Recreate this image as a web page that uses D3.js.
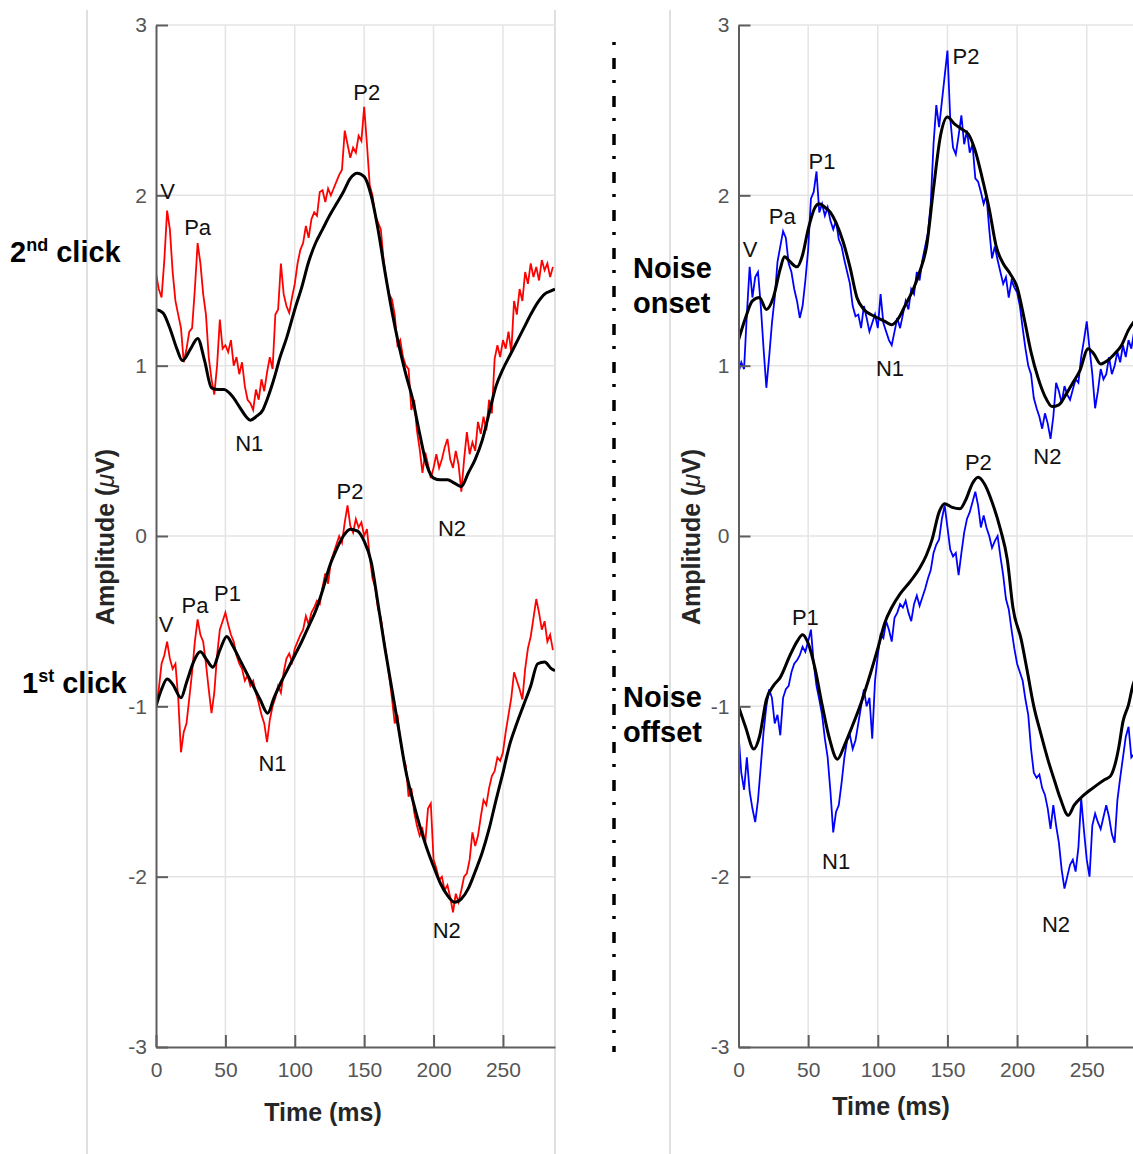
<!DOCTYPE html>
<html><head><meta charset="utf-8">
<script src="https://cdn.jsdelivr.net/npm/d3@7"></script>
<style>
body{margin:0;background:#fff}
svg{display:block}
text{font-family:"Liberation Sans",Arial,sans-serif}
</style>
</head><body>
<svg id="c" width="1133" height="1154"></svg>
<script>
// ---------------- DATA ----------------
const xTicks = [0, 50, 100, 150, 200, 250];
const yTicks = [-3, -2, -1, 0, 1, 2, 3];
const sampleStep = 2; // ms between samples of the noisy traces

// 2nd click (red, upper left)
const redClick2 = [
 1.54,1.45,1.40,1.62,1.91,1.80,1.55,1.38,1.30,1.22,
 1.02,1.10,1.20,1.22,1.45,1.72,1.60,1.42,1.30,1.05,
 0.92,0.83,1.00,1.27,1.10,1.12,1.08,1.15,1.00,1.05,
 0.95,1.02,0.88,0.80,0.78,0.74,0.86,0.80,0.92,0.85,
 0.96,1.05,0.98,1.30,1.33,1.60,1.42,1.35,1.31,1.40,
 1.48,1.60,1.68,1.72,1.82,1.75,1.86,1.90,1.88,2.02,
 2.03,1.96,2.04,2.00,2.04,2.08,2.12,2.15,2.38,2.30,
 2.22,2.28,2.25,2.35,2.32,2.52,2.30,2.06,2.00,1.88,
 1.84,1.80,1.62,1.50,1.42,1.39,1.30,1.12,1.15,1.05,
 1.00,0.98,0.74,0.80,0.62,0.51,0.37,0.49,0.42,0.34,
 0.40,0.48,0.40,0.45,0.52,0.57,0.45,0.40,0.50,0.42,
 0.26,0.45,0.61,0.48,0.55,0.50,0.67,0.60,0.70,0.62,
 0.80,0.72,1.04,1.12,1.05,1.15,1.10,1.20,1.08,1.38,
 1.30,1.45,1.38,1.55,1.48,1.60,1.52,1.58,1.50,1.62,
 1.56,1.60,1.52,1.58
];
// 1st click (red, lower left)
const redClick1 = [
 -1.00,-0.90,-0.75,-0.70,-0.62,-0.72,-0.78,-0.75,-0.95,-1.27,
 -1.15,-1.10,-0.95,-0.80,-0.62,-0.49,-0.58,-0.62,-0.75,-0.90,
 -1.04,-0.92,-0.70,-0.55,-0.50,-0.45,-0.52,-0.58,-0.62,-0.70,
 -0.75,-0.78,-0.85,-0.82,-0.88,-0.85,-0.92,-0.98,-1.05,-1.10,
 -1.21,-1.08,-1.00,-0.95,-0.88,-0.92,-0.80,-0.72,-0.69,-0.74,
 -0.66,-0.62,-0.58,-0.55,-0.47,-0.52,-0.45,-0.42,-0.38,-0.40,
 -0.30,-0.22,-0.28,-0.15,-0.10,-0.05,0.00,-0.04,0.08,0.18,
 0.06,0.02,0.10,0.05,0.08,0.00,0.04,-0.12,-0.25,-0.30,
 -0.43,-0.48,-0.60,-0.70,-0.82,-0.95,-1.10,-1.05,-1.20,-1.29,
 -1.35,-1.53,-1.48,-1.62,-1.70,-1.76,-1.72,-1.80,-1.60,-1.57,
 -1.90,-1.95,-2.02,-2.00,-2.08,-2.05,-2.12,-2.21,-2.10,-2.15,
 -2.08,-2.00,-1.98,-1.90,-1.74,-1.82,-1.76,-1.65,-1.55,-1.58,
 -1.48,-1.41,-1.38,-1.30,-1.32,-1.27,-1.15,-1.05,-0.95,-0.80,
 -0.85,-0.90,-0.96,-0.78,-0.66,-0.59,-0.48,-0.37,-0.45,-0.55,
 -0.50,-0.62,-0.58,-0.67
];
// Noise onset (blue, upper right)
const blueOnset = [
 0.96,1.02,0.98,1.30,1.58,1.40,1.52,1.55,1.35,1.10,
 0.87,1.05,1.25,1.40,1.61,1.70,1.79,1.75,1.60,1.55,
 1.45,1.38,1.28,1.35,1.50,1.68,1.98,2.02,2.14,1.90,
 1.95,1.88,1.93,1.85,1.80,1.85,1.74,1.70,1.62,1.55,
 1.48,1.35,1.29,1.30,1.22,1.35,1.28,1.20,1.25,1.30,
 1.22,1.42,1.25,1.20,1.15,1.12,1.20,1.28,1.22,1.30,
 1.38,1.33,1.45,1.42,1.55,1.50,1.62,1.70,1.78,1.95,
 2.30,2.53,2.40,2.55,2.70,2.85,2.45,2.28,2.24,2.35,
 2.47,2.30,2.38,2.25,2.30,2.10,2.08,2.02,1.95,2.00,
 1.80,1.63,1.70,1.62,1.55,1.48,1.52,1.40,1.50,1.46,
 1.43,1.35,1.22,1.10,1.00,0.95,0.81,0.75,0.70,0.63,
 0.72,0.66,0.57,0.70,0.90,0.85,0.78,0.88,0.83,0.80,
 0.86,0.92,0.90,1.05,1.15,1.26,1.10,0.95,0.75,0.85,
 0.98,0.92,0.95,1.05,0.95,1.00,1.08,1.02,1.12,1.05,
 1.15,1.10,1.20,1.18,1.25,1.22
];
// Noise offset (blue, lower right)
const blueOffset = [
 -1.16,-1.39,-1.49,-1.30,-1.50,-1.60,-1.68,-1.55,-1.35,-1.15,
 -1.00,-0.90,-0.95,-1.10,-1.05,-1.17,-0.95,-0.90,-0.88,-0.80,
 -0.75,-0.73,-0.70,-0.65,-0.68,-0.62,-0.55,-0.75,-0.88,-0.96,
 -1.05,-1.19,-1.30,-1.50,-1.74,-1.62,-1.58,-1.45,-1.30,-1.20,
 -1.17,-1.25,-1.20,-1.10,-1.00,-0.90,-1.00,-0.95,-1.19,-0.85,
 -0.70,-0.58,-0.60,-0.50,-0.55,-0.62,-0.48,-0.45,-0.40,-0.42,
 -0.38,-0.45,-0.50,-0.40,-0.35,-0.41,-0.36,-0.31,-0.25,-0.20,
 -0.10,-0.05,-0.02,0.10,0.18,0.05,-0.08,-0.12,-0.10,-0.23,
 -0.10,0.02,0.10,0.14,0.20,0.26,0.18,0.05,0.12,0.05,
 0.00,-0.07,-0.03,0.00,-0.12,-0.23,-0.37,-0.43,-0.55,-0.66,
 -0.75,-0.80,-0.85,-0.96,-1.05,-1.25,-1.39,-1.42,-1.40,-1.48,
 -1.52,-1.60,-1.72,-1.58,-1.70,-1.80,-1.96,-2.07,-2.00,-1.93,
 -1.90,-1.97,-1.83,-1.54,-1.73,-1.90,-2.00,-1.70,-1.63,-1.68,
 -1.72,-1.65,-1.58,-1.65,-1.75,-1.80,-1.55,-1.42,-1.30,-1.18,
 -1.12,-1.30,-1.28,-1.25,-1.22,-1.20
];

// Smoothed (black) curves: [time ms, amplitude]
const blackClick2 = [[0,1.33],[5,1.31],[10,1.22],[15,1.10],[19,1.03],[25,1.10],[30,1.16],[35,1.03],[40,0.87],[45,0.86],[49,0.86],[55,0.82],[60,0.76],[65,0.70],[68,0.68],[72,0.70],[77,0.74],[80,0.80],[83,0.87],[86,0.95],[89,1.04],[94,1.16],[100,1.33],[105,1.46],[110,1.61],[115,1.72],[120,1.80],[125,1.88],[130,1.95],[135,2.02],[140,2.10],[145,2.13],[150,2.11],[155,2.00],[160,1.80],[165,1.55],[170,1.32],[175,1.12],[180,0.95],[185,0.80],[190,0.60],[195,0.42],[200,0.34],[205,0.33],[210,0.33],[215,0.31],[220,0.29],[225,0.37],[230,0.45],[235,0.56],[240,0.72],[245,0.88],[250,0.98],[255,1.06],[260,1.14],[265,1.22],[270,1.30],[275,1.37],[280,1.42],[285,1.44],[287.5,1.45]];
const blackClick1 = [[0,-1.00],[4,-0.90],[8,-0.84],[12,-0.87],[18,-0.95],[22,-0.86],[27,-0.74],[32,-0.68],[36,-0.72],[41,-0.77],[46,-0.67],[51,-0.59],[55,-0.64],[60,-0.72],[65,-0.80],[70,-0.88],[75,-0.96],[80.5,-1.04],[85,-0.95],[90,-0.86],[95,-0.78],[100,-0.70],[105,-0.62],[110,-0.53],[115,-0.44],[120,-0.32],[125,-0.18],[130,-0.08],[135,0.00],[140,0.04],[145,0.03],[150,-0.03],[155,-0.15],[160,-0.40],[165,-0.66],[170,-0.90],[175,-1.14],[180,-1.38],[185,-1.55],[190,-1.70],[195,-1.83],[200,-1.94],[205,-2.04],[210,-2.11],[215,-2.15],[220,-2.13],[225,-2.07],[230,-1.97],[235,-1.86],[240,-1.72],[245,-1.55],[250,-1.39],[255,-1.22],[260,-1.10],[265,-0.99],[270,-0.88],[275,-0.75],[280,-0.74],[285,-0.78],[287.5,-0.79]];
const blackOnset = [[0,1.15],[5,1.28],[10,1.38],[15,1.40],[20,1.33],[25,1.40],[30,1.57],[33,1.64],[37,1.61],[42,1.58],[46,1.65],[50,1.80],[55,1.93],[58,1.95],[62,1.93],[66,1.90],[70,1.84],[75,1.73],[80,1.58],[85,1.40],[90,1.33],[95,1.30],[100,1.28],[105,1.26],[110,1.24],[115,1.28],[120,1.36],[125,1.44],[130,1.55],[135,1.70],[140,2.04],[145,2.35],[150,2.46],[155,2.42],[160,2.39],[165,2.36],[170,2.26],[175,2.10],[180,1.92],[185,1.70],[190,1.60],[195,1.54],[200,1.46],[205,1.28],[210,1.08],[215,0.93],[220,0.82],[225,0.76],[230,0.77],[235,0.83],[240,0.90],[245,0.97],[251,1.10],[255,1.07],[260,1.01],[265,1.03],[270,1.07],[275,1.12],[280,1.21],[285,1.27],[290,1.31]];
const blackOffset = [[0,-1.00],[5,-1.12],[11,-1.25],[15,-1.18],[20,-0.96],[25,-0.88],[30,-0.83],[37,-0.70],[42,-0.62],[46,-0.58],[50,-0.63],[55,-0.78],[60,-0.99],[65,-1.18],[71,-1.31],[76,-1.23],[81,-1.13],[88,-0.98],[95,-0.80],[100,-0.66],[105,-0.51],[110,-0.42],[116,-0.34],[123,-0.27],[130,-0.19],[135,-0.11],[139,-0.02],[144,0.14],[148,0.19],[153,0.17],[159,0.16],[163,0.21],[168,0.31],[172,0.345],[177,0.30],[182,0.20],[188,0.04],[193,-0.14],[197,-0.42],[203,-0.61],[207,-0.78],[212,-1.00],[217,-1.16],[222,-1.31],[227,-1.44],[231,-1.54],[236.8,-1.64],[241,-1.58],[246,-1.535],[256,-1.47],[263,-1.43],[267,-1.41],[270,-1.35],[273,-1.24],[276,-1.09],[280,-0.99],[283,-0.88],[287,-0.80]];

// Peak annotations: [label, time ms, amplitude]
const peaksLeft = [["V",8.3,1.98],["Pa",30.0,1.77],["P2",151.8,2.56],["N1",67.2,0.50],["N2",213.3,0.0],
  ["P2",139.8,0.22],["P1",51.5,-0.38],["Pa",28.1,-0.45],["V",7.2,-0.565],["N1",83.9,-1.38],["N2",209.5,-2.36]];
const peaksRight = [["V",8.4,1.64],["Pa",31.4,1.83],["P1",59.9,2.155],["P2",163.3,2.77],["N1",108.8,0.94],["N2",221.7,0.42],
  ["P2",172.2,0.39],["P1",48.0,-0.52],["N1",70.1,-1.955],["N2",227.9,-2.325]];

// ---------------- DRAW ----------------
const svg = d3.select("#c");
const Y0 = 1047, Y1 = 25;

// full-height panel frame lines
[87, 555, 670].forEach(px => {
  svg.append("line").attr("x1", px).attr("x2", px).attr("y1", 10).attr("y2", 1154)
    .attr("stroke", "#cccccc").attr("stroke-width", 1.2);
});

function drawPanel(p, idx) {
  const x = d3.scaleLinear().domain([0, p.tMax]).range([p.x0, p.x1]);
  const y = d3.scaleLinear().domain([-3, 3]).range([Y0, Y1]);
  const g = svg.append("g");

  // grid
  g.append("g").selectAll("line").data(xTicks.filter(d => d > 0)).join("line")
    .attr("x1", d => x(d)).attr("x2", d => x(d)).attr("y1", Y0).attr("y2", Y1)
    .attr("stroke", "#e4e4e4").attr("stroke-width", 1.5);
  g.append("g").selectAll("line").data(yTicks.filter(d => d > -3)).join("line")
    .attr("x1", p.x0).attr("x2", p.x1).attr("y1", d => y(d)).attr("y2", d => y(d))
    .attr("stroke", "#e4e4e4").attr("stroke-width", 1.5);

  // clip
  const cid = "clip" + idx;
  svg.append("clipPath").attr("id", cid).append("rect")
    .attr("x", p.x0).attr("y", Y1 - 5).attr("width", p.x1 - p.x0).attr("height", Y0 - Y1 + 10);
  const plot = g.append("g").attr("clip-path", `url(#${cid})`);

  const noisyLine = d3.line().x((d, i) => x(i * sampleStep)).y(d => y(d)).curve(d3.curveLinear);
  const smoothLine = d3.line().x(d => x(d[0])).y(d => y(d[1])).curve(d3.curveMonotoneX);

  p.traces.forEach(tr => {
    plot.append("path").datum(tr.noisy).attr("d", noisyLine)
      .attr("fill", "none").attr("stroke", p.color).attr("stroke-width", 1.8).attr("stroke-linejoin", "miter");
  });
  p.traces.forEach(tr => {
    plot.append("path").datum(tr.black).attr("d", smoothLine)
      .attr("fill", "none").attr("stroke", "#000").attr("stroke-width", 3).attr("stroke-linejoin", "round");
  });

  // axes
  const ay = g.append("g").attr("transform", `translate(${p.x0},0)`)
    .call(d3.axisLeft(y).tickValues(yTicks).tickSize(-12).tickSizeOuter(0).tickPadding(9).tickFormat(d => String(d)));
  const ax = g.append("g").attr("transform", `translate(0,${Y0})`)
    .call(d3.axisBottom(x).tickValues(xTicks).tickSize(-12).tickSizeOuter(0).tickPadding(15).tickFormat(d => String(d)));
  [ay, ax].forEach(a => {
    a.attr("font-family", null).attr("font-size", null);
    a.selectAll("path,line").attr("stroke", "#5e5e5e").attr("stroke-width", 2);
    a.selectAll("text").attr("font-size", 21).attr("fill", "#555555")
      .style("font-family", '"Liberation Sans", Arial, sans-serif');
  });

  // peak labels
  g.append("g").selectAll("text").data(p.peaks).join("text")
    .attr("x", d => x(d[1])).attr("y", d => y(d[2]))
    .attr("text-anchor", "middle").attr("font-size", 22).attr("fill", "#111")
    .text(d => d[0]);

  // axis titles
  const yl = g.append("text")
    .attr("transform", `translate(${p.yTitleX},537) rotate(-90)`)
    .attr("text-anchor", "middle").attr("font-size", 25).attr("font-weight", "bold").attr("fill", "#262626");
  yl.append("tspan").text("Amplitude (");
  yl.append("tspan").attr("font-style", "italic").attr("font-weight", "normal").text("\u03BC");
  yl.append("tspan").text("V)");

  g.append("text").attr("x", p.xTitleX).attr("y", p.xTitleY)
    .attr("text-anchor", "middle").attr("font-size", 25).attr("font-weight", "bold").attr("fill", "#262626")
    .text("Time (ms)");
}

drawPanel({x0: 156, x1: 555, tMax: 287.5, color: "#ff0000",
  traces: [{noisy: redClick2, black: blackClick2}, {noisy: redClick1, black: blackClick1}],
  peaks: peaksLeft, yTitleX: 114, xTitleX: 323, xTitleY: 1121}, 0);
drawPanel({x0: 738.5, x1: 1133, tMax: 283.2, color: "#0000ff",
  traces: [{noisy: blueOnset, black: blackOnset}, {noisy: blueOffset, black: blackOffset}],
  peaks: peaksRight, yTitleX: 700, xTitleX: 891, xTitleY: 1115}, 1);

// dash-dot separator
svg.append("line").attr("x1", 614).attr("x2", 614).attr("y1", 42).attr("y2", 1052)
  .attr("stroke", "#000").attr("stroke-width", 3.5).attr("stroke-dasharray", "3,13,11,11");

// side labels
function sideLabel(xp, yp, main, sup, rest) {
  const t = svg.append("text").attr("x", xp).attr("y", yp)
    .attr("font-size", 29).attr("font-weight", "bold").attr("fill", "#000");
  t.append("tspan").text(main);
  t.append("tspan").attr("font-size", 18).attr("dy", -11).text(sup);
  t.append("tspan").attr("dy", 11).text(rest);
}
sideLabel(10, 262, "2", "nd", " click");
sideLabel(22, 693, "1", "st", " click");

function twoLine(xp, y1, y2, a, b) {
  svg.append("text").attr("x", xp).attr("y", y1).attr("font-size", 29).attr("font-weight", "bold").text(a);
  svg.append("text").attr("x", xp).attr("y", y2).attr("font-size", 29).attr("font-weight", "bold").text(b);
}
twoLine(633, 278, 313, "Noise", "onset");
twoLine(623, 707, 742, "Noise", "offset");
</script>
</body></html>
